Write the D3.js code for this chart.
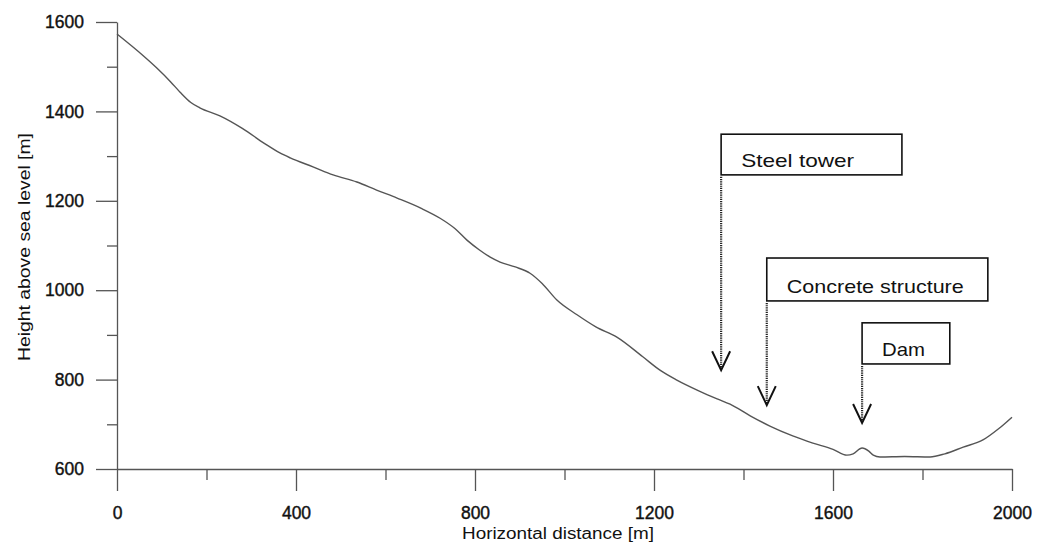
<!DOCTYPE html>
<html>
<head>
<meta charset="utf-8">
<script src="https://cdn.jsdelivr.net/npm/d3@7"></script>
<style>
  body { margin: 0; background: #fff; }
  svg { display: block; font-family: "Liberation Sans", Arial, sans-serif; }
</style>
</head>
<body>
<svg class="root"></svg>
<script>
// terrain profile (distance m, height m)
var distance = [0, 58, 89, 120, 141, 165, 185, 230, 280, 330, 364, 387, 438, 483, 536, 580, 626, 680, 722, 755,
  782, 810, 834, 856, 890, 923, 950, 983, 1028, 1070, 1117, 1175, 1215, 1251, 1300, 1341, 1370, 1415, 1459, 1510,
  1555, 1600, 1631, 1645, 1665, 1680, 1690, 1705, 1760, 1817, 1850, 1891, 1935, 1970, 2000];
var height = [1573, 1525, 1497, 1466, 1443, 1420, 1408, 1390, 1362, 1328, 1307, 1296, 1276, 1258, 1242, 1224, 1206, 1183, 1161, 1138,
  1112, 1090, 1074, 1063, 1052, 1038, 1015, 978, 945, 918, 895, 851, 820, 799, 775, 757, 745, 719, 696, 674,
  658, 644, 631, 634, 647, 640, 631, 627, 628, 627, 634, 649, 665, 690, 716];

var xMajor = [0, 400, 800, 1200, 1600, 2000];
var xMinor = [200, 600, 1000, 1400, 1800];
var yMajor = [600, 800, 1000, 1200, 1400, 1600];
var yMinor = [700, 900, 1100, 1300, 1500];

// annotations: arrow distance, arrow tip height, box top/bottom height, box right distance
var labels = ["Steel  tower", "Concrete structure", "Dam"];
var labelX = [1350, 1452, 1665];
var labelTip = [821, 743, 703];
var labelTop = [1349, 1072, 927];
var labelBottom = [1258, 976, 835];
var labelRight = [1754, 1946, 1861];
var labelWidth = [113, 177, 43];

var W = 1040, H = 542;
var svg = d3.select(".root").attr("width", W).attr("height", H);

var x = d3.scaleLinear().domain([0, 2000]).range([117, 1012]);
var y = d3.scaleLinear().domain([600, 1600]).range([469, 22]);

var axisColor = "#555";

// minor ticks
svg.append("g")
    .attr("transform", "translate(" + x(0) + ",0)")
    .call(d3.axisLeft(y).tickValues(yMinor).tickSize(10).tickFormat(""))
    .call(g => g.select(".domain").remove());
svg.append("g")
    .attr("transform", "translate(0," + y(600) + ")")
    .call(d3.axisBottom(x).tickValues(xMinor).tickSize(11).tickFormat(""))
    .call(g => g.select(".domain").remove());

// major ticks + labels
svg.append("g")
    .attr("transform", "translate(" + x(0) + ",0)")
    .call(d3.axisLeft(y).tickValues(yMajor).tickSize(21).tickSizeOuter(0).tickPadding(12).tickFormat(d3.format("d")));
svg.append("g")
    .attr("transform", "translate(0," + y(600) + ")")
    .call(d3.axisBottom(x).tickValues(xMajor).tickSize(22).tickSizeOuter(0).tickPadding(16).tickFormat(d3.format("d")));

svg.selectAll(".tick line, .domain").attr("stroke", axisColor).attr("stroke-width", 1.3);
svg.selectAll(".tick text")
    .attr("fill", "#111")
    .attr("stroke", "#111").attr("stroke-width", 0.4)
    .style("font-size", "17.5px")
    .style("font-family", "'Liberation Sans', Arial, sans-serif");

// axis titles
svg.append("text")
    .attr("x", 558).attr("y", 539)
    .attr("text-anchor", "middle")
    .attr("textLength", 192).attr("lengthAdjust", "spacingAndGlyphs")
    .style("font-size", "16px").attr("fill", "#111")
    .text("Horizontal distance [m]");

svg.append("text")
    .attr("transform", "translate(30,247)rotate(-90)")
    .attr("text-anchor", "middle")
    .attr("textLength", 228).attr("lengthAdjust", "spacingAndGlyphs")
    .style("font-size", "17px").attr("fill", "#111")
    .text("Height above sea level [m]");

// profile line
var pts = distance.map((d, i) => [d, height[i]]);
svg.append("path")
    .datum(pts)
    .attr("fill", "none")
    .attr("stroke", "#555")
    .attr("stroke-width", 1.4)
    .attr("d", d3.line().x(d => x(d[0])).y(d => y(d[1])).curve(d3.curveMonotoneX));

// annotations
labels.forEach((name, i) => {
  var g = svg.append("g");
  var x0 = x(labelX[i]), x1 = x(labelRight[i]);
  var top = y(labelTop[i]), bot = y(labelBottom[i]), tip = y(labelTip[i]);

  g.append("rect")
    .attr("x", x0).attr("y", top)
    .attr("width", x1 - x0).attr("height", bot - top)
    .attr("fill", "#fff").attr("stroke", "#111").attr("stroke-width", 1.6);

  g.append("text")
    .attr("x", x0 + 20).attr("y", bot - 8)
    .attr("textLength", labelWidth[i]).attr("lengthAdjust", "spacingAndGlyphs")
    .style("font-size", "19px").attr("fill", "#111")
    .text(name);

  g.append("line")
    .attr("x1", x0).attr("x2", x0)
    .attr("y1", bot + 2).attr("y2", tip - 2)
    .attr("stroke", "#222").attr("stroke-width", 2.2)
    .attr("stroke-dasharray", "1.2 1");

  g.append("path")
    .attr("d", "M" + (x0 - 9) + "," + (tip - 19) + "L" + x0 + "," + tip + "L" + (x0 + 9) + "," + (tip - 19))
    .attr("fill", "none").attr("stroke", "#111").attr("stroke-width", 2);
});
</script>
</body>
</html>
